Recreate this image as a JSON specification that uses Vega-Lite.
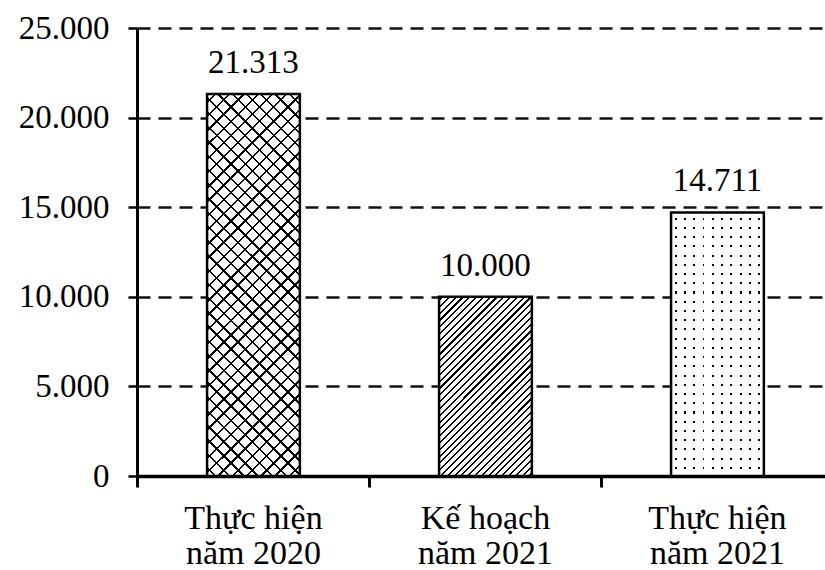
{
  "$schema": "https://vega.github.io/schema/vega-lite/v6.json",
  "width": 688,
  "height": 448,
  "autosize": {"type": "none"},
  "padding": {"left": 137, "top": 28, "right": 0, "bottom": 94},
  "background": "white",
  "data": {"values": [
    {"cat": "Thực hiện\nnăm 2020", "value": 21313},
    {"cat": "Kế hoạch\nnăm 2021", "value": 10000},
    {"cat": "Thực hiện\nnăm 2021", "value": 14711}
  ]},
  "encoding": {
    "x": {
      "field": "cat", "type": "nominal", "sort": null,
      "scale": {"domain": ["Thực hiện\nnăm 2020", "Kế hoạch\nnăm 2021", "Thực hiện\nnăm 2021"], "paddingInner": 0.6, "paddingOuter": 0.2828, "align": 0.534},
      "axis": null
    },
    "y": {
      "field": "value", "type": "quantitative",
      "scale": {"domain": [0, 25000], "nice": false},
      "axis": {
        "title": null, "values": [0, 5000, 10000, 15000, 20000, 25000], "format": ",d",
        "domain": true, "domainColor": "black", "domainWidth": 3,
        "ticks": true, "tickSize": 9, "tickWidth": 2.5, "tickColor": "black",
        "grid": true, "gridColor": "#111", "gridWidth": 2.5, "gridDash": [13, 8],
        "labelFont": "Liberation Serif", "labelFontSize": 33, "labelColor": "black", "labelPadding": 19
      }
    }
  },
  "layer": [
    {
      "transform": [{"filter": {"field": "cat", "equal": "Thực hiện\nnăm 2020"}}],
      "mark": {"type": "bar", "strokeWidth": 0, "fill": {"gradient": "linear", "x1": 0, "y1": 0, "x2": 0.285, "y2": 1.174, "stops": [
        {"offset": 0, "color": "#fff"},
        {"offset": 0.015, "color": "#fff"}, {"offset": 0.015, "color": "#000"}, {"offset": 0.02, "color": "#000"}, {"offset": 0.02, "color": "#fff"},
        {"offset": 0.045, "color": "#fff"}, {"offset": 0.045, "color": "#000"}, {"offset": 0.05, "color": "#000"}, {"offset": 0.05, "color": "#fff"},
        {"offset": 0.075, "color": "#fff"}, {"offset": 0.075, "color": "#000"}, {"offset": 0.08, "color": "#000"}, {"offset": 0.08, "color": "#fff"},
        {"offset": 0.105, "color": "#fff"}, {"offset": 0.105, "color": "#000"}, {"offset": 0.11, "color": "#000"}, {"offset": 0.11, "color": "#fff"},
        {"offset": 0.135, "color": "#fff"}, {"offset": 0.135, "color": "#000"}, {"offset": 0.14, "color": "#000"}, {"offset": 0.14, "color": "#fff"},
        {"offset": 0.165, "color": "#fff"}, {"offset": 0.165, "color": "#000"}, {"offset": 0.17, "color": "#000"}, {"offset": 0.17, "color": "#fff"},
        {"offset": 0.195, "color": "#fff"}, {"offset": 0.195, "color": "#000"}, {"offset": 0.2, "color": "#000"}, {"offset": 0.2, "color": "#fff"},
        {"offset": 0.225, "color": "#fff"}, {"offset": 0.225, "color": "#000"}, {"offset": 0.23, "color": "#000"}, {"offset": 0.23, "color": "#fff"},
        {"offset": 0.255, "color": "#fff"}, {"offset": 0.255, "color": "#000"}, {"offset": 0.26, "color": "#000"}, {"offset": 0.26, "color": "#fff"},
        {"offset": 0.285, "color": "#fff"}, {"offset": 0.285, "color": "#000"}, {"offset": 0.29, "color": "#000"}, {"offset": 0.29, "color": "#fff"},
        {"offset": 0.315, "color": "#fff"}, {"offset": 0.315, "color": "#000"}, {"offset": 0.32, "color": "#000"}, {"offset": 0.32, "color": "#fff"},
        {"offset": 0.345, "color": "#fff"}, {"offset": 0.345, "color": "#000"}, {"offset": 0.35, "color": "#000"}, {"offset": 0.35, "color": "#fff"},
        {"offset": 0.375, "color": "#fff"}, {"offset": 0.375, "color": "#000"}, {"offset": 0.38, "color": "#000"}, {"offset": 0.38, "color": "#fff"},
        {"offset": 0.405, "color": "#fff"}, {"offset": 0.405, "color": "#000"}, {"offset": 0.41, "color": "#000"}, {"offset": 0.41, "color": "#fff"},
        {"offset": 0.435, "color": "#fff"}, {"offset": 0.435, "color": "#000"}, {"offset": 0.44, "color": "#000"}, {"offset": 0.44, "color": "#fff"},
        {"offset": 0.465, "color": "#fff"}, {"offset": 0.465, "color": "#000"}, {"offset": 0.47, "color": "#000"}, {"offset": 0.47, "color": "#fff"},
        {"offset": 0.495, "color": "#fff"}, {"offset": 0.495, "color": "#000"}, {"offset": 0.5, "color": "#000"}, {"offset": 0.5, "color": "#fff"},
        {"offset": 0.525, "color": "#fff"}, {"offset": 0.525, "color": "#000"}, {"offset": 0.53, "color": "#000"}, {"offset": 0.53, "color": "#fff"},
        {"offset": 0.555, "color": "#fff"}, {"offset": 0.555, "color": "#000"}, {"offset": 0.56, "color": "#000"}, {"offset": 0.56, "color": "#fff"},
        {"offset": 0.585, "color": "#fff"}, {"offset": 0.585, "color": "#000"}, {"offset": 0.59, "color": "#000"}, {"offset": 0.59, "color": "#fff"},
        {"offset": 0.615, "color": "#fff"}, {"offset": 0.615, "color": "#000"}, {"offset": 0.62, "color": "#000"}, {"offset": 0.62, "color": "#fff"},
        {"offset": 0.645, "color": "#fff"}, {"offset": 0.645, "color": "#000"}, {"offset": 0.65, "color": "#000"}, {"offset": 0.65, "color": "#fff"},
        {"offset": 0.675, "color": "#fff"}, {"offset": 0.675, "color": "#000"}, {"offset": 0.68, "color": "#000"}, {"offset": 0.68, "color": "#fff"},
        {"offset": 0.705, "color": "#fff"}, {"offset": 0.705, "color": "#000"}, {"offset": 0.71, "color": "#000"}, {"offset": 0.71, "color": "#fff"},
        {"offset": 0.735, "color": "#fff"}, {"offset": 0.735, "color": "#000"}, {"offset": 0.74, "color": "#000"}, {"offset": 0.74, "color": "#fff"},
        {"offset": 0.765, "color": "#fff"}, {"offset": 0.765, "color": "#000"}, {"offset": 0.77, "color": "#000"}, {"offset": 0.77, "color": "#fff"},
        {"offset": 0.795, "color": "#fff"}, {"offset": 0.795, "color": "#000"}, {"offset": 0.8, "color": "#000"}, {"offset": 0.8, "color": "#fff"},
        {"offset": 0.825, "color": "#fff"}, {"offset": 0.825, "color": "#000"}, {"offset": 0.83, "color": "#000"}, {"offset": 0.83, "color": "#fff"},
        {"offset": 0.855, "color": "#fff"}, {"offset": 0.855, "color": "#000"}, {"offset": 0.86, "color": "#000"}, {"offset": 0.86, "color": "#fff"},
        {"offset": 0.885, "color": "#fff"}, {"offset": 0.885, "color": "#000"}, {"offset": 0.89, "color": "#000"}, {"offset": 0.89, "color": "#fff"},
        {"offset": 0.915, "color": "#fff"}, {"offset": 0.915, "color": "#000"}, {"offset": 0.92, "color": "#000"}, {"offset": 0.92, "color": "#fff"},
        {"offset": 0.945, "color": "#fff"}, {"offset": 0.945, "color": "#000"}, {"offset": 0.95, "color": "#000"}, {"offset": 0.95, "color": "#fff"},
        {"offset": 0.975, "color": "#fff"}, {"offset": 0.975, "color": "#000"}, {"offset": 0.98, "color": "#000"}, {"offset": 0.98, "color": "#fff"},
        {"offset": 1, "color": "#fff"}
      ]}},
      "encoding": {
        "x": {
          "field": "cat", "type": "nominal", "sort": null,
          "scale": {"domain": ["Thực hiện\nnăm 2020", "Kế hoạch\nnăm 2021", "Thực hiện\nnăm 2021"], "paddingInner": 0.6, "paddingOuter": 0.2828, "align": 0.534},
          "axis": {
            "title": null, "orient": "bottom", "labelAngle": 0,
            "labelExpr": "split(datum.label, '\\n')", "labelLineHeight": 35,
            "domain": true, "domainColor": "black", "domainWidth": 3.5,
            "ticks": false, "grid": false,
            "labelFont": "Liberation Serif", "labelFontSize": 34, "labelColor": "black", "labelPadding": 25
          }
        }
      }
    },
    {
      "transform": [{"filter": {"field": "cat", "equal": "Thực hiện\nnăm 2020"}}],
      "mark": {"type": "bar", "stroke": "black", "strokeWidth": 2.5, "fill": {"gradient": "linear", "x1": 0, "y1": 1, "x2": 0.285, "y2": -0.174, "stops": [
        {"offset": 0, "color": "transparent"},
        {"offset": 0.015, "color": "transparent"}, {"offset": 0.015, "color": "#000"}, {"offset": 0.02, "color": "#000"}, {"offset": 0.02, "color": "transparent"},
        {"offset": 0.045, "color": "transparent"}, {"offset": 0.045, "color": "#000"}, {"offset": 0.05, "color": "#000"}, {"offset": 0.05, "color": "transparent"},
        {"offset": 0.075, "color": "transparent"}, {"offset": 0.075, "color": "#000"}, {"offset": 0.08, "color": "#000"}, {"offset": 0.08, "color": "transparent"},
        {"offset": 0.105, "color": "transparent"}, {"offset": 0.105, "color": "#000"}, {"offset": 0.11, "color": "#000"}, {"offset": 0.11, "color": "transparent"},
        {"offset": 0.135, "color": "transparent"}, {"offset": 0.135, "color": "#000"}, {"offset": 0.14, "color": "#000"}, {"offset": 0.14, "color": "transparent"},
        {"offset": 0.165, "color": "transparent"}, {"offset": 0.165, "color": "#000"}, {"offset": 0.17, "color": "#000"}, {"offset": 0.17, "color": "transparent"},
        {"offset": 0.195, "color": "transparent"}, {"offset": 0.195, "color": "#000"}, {"offset": 0.2, "color": "#000"}, {"offset": 0.2, "color": "transparent"},
        {"offset": 0.225, "color": "transparent"}, {"offset": 0.225, "color": "#000"}, {"offset": 0.23, "color": "#000"}, {"offset": 0.23, "color": "transparent"},
        {"offset": 0.255, "color": "transparent"}, {"offset": 0.255, "color": "#000"}, {"offset": 0.26, "color": "#000"}, {"offset": 0.26, "color": "transparent"},
        {"offset": 0.285, "color": "transparent"}, {"offset": 0.285, "color": "#000"}, {"offset": 0.29, "color": "#000"}, {"offset": 0.29, "color": "transparent"},
        {"offset": 0.315, "color": "transparent"}, {"offset": 0.315, "color": "#000"}, {"offset": 0.32, "color": "#000"}, {"offset": 0.32, "color": "transparent"},
        {"offset": 0.345, "color": "transparent"}, {"offset": 0.345, "color": "#000"}, {"offset": 0.35, "color": "#000"}, {"offset": 0.35, "color": "transparent"},
        {"offset": 0.375, "color": "transparent"}, {"offset": 0.375, "color": "#000"}, {"offset": 0.38, "color": "#000"}, {"offset": 0.38, "color": "transparent"},
        {"offset": 0.405, "color": "transparent"}, {"offset": 0.405, "color": "#000"}, {"offset": 0.41, "color": "#000"}, {"offset": 0.41, "color": "transparent"},
        {"offset": 0.435, "color": "transparent"}, {"offset": 0.435, "color": "#000"}, {"offset": 0.44, "color": "#000"}, {"offset": 0.44, "color": "transparent"},
        {"offset": 0.465, "color": "transparent"}, {"offset": 0.465, "color": "#000"}, {"offset": 0.47, "color": "#000"}, {"offset": 0.47, "color": "transparent"},
        {"offset": 0.495, "color": "transparent"}, {"offset": 0.495, "color": "#000"}, {"offset": 0.5, "color": "#000"}, {"offset": 0.5, "color": "transparent"},
        {"offset": 0.525, "color": "transparent"}, {"offset": 0.525, "color": "#000"}, {"offset": 0.53, "color": "#000"}, {"offset": 0.53, "color": "transparent"},
        {"offset": 0.555, "color": "transparent"}, {"offset": 0.555, "color": "#000"}, {"offset": 0.56, "color": "#000"}, {"offset": 0.56, "color": "transparent"},
        {"offset": 0.585, "color": "transparent"}, {"offset": 0.585, "color": "#000"}, {"offset": 0.59, "color": "#000"}, {"offset": 0.59, "color": "transparent"},
        {"offset": 0.615, "color": "transparent"}, {"offset": 0.615, "color": "#000"}, {"offset": 0.62, "color": "#000"}, {"offset": 0.62, "color": "transparent"},
        {"offset": 0.645, "color": "transparent"}, {"offset": 0.645, "color": "#000"}, {"offset": 0.65, "color": "#000"}, {"offset": 0.65, "color": "transparent"},
        {"offset": 0.675, "color": "transparent"}, {"offset": 0.675, "color": "#000"}, {"offset": 0.68, "color": "#000"}, {"offset": 0.68, "color": "transparent"},
        {"offset": 0.705, "color": "transparent"}, {"offset": 0.705, "color": "#000"}, {"offset": 0.71, "color": "#000"}, {"offset": 0.71, "color": "transparent"},
        {"offset": 0.735, "color": "transparent"}, {"offset": 0.735, "color": "#000"}, {"offset": 0.74, "color": "#000"}, {"offset": 0.74, "color": "transparent"},
        {"offset": 0.765, "color": "transparent"}, {"offset": 0.765, "color": "#000"}, {"offset": 0.77, "color": "#000"}, {"offset": 0.77, "color": "transparent"},
        {"offset": 0.795, "color": "transparent"}, {"offset": 0.795, "color": "#000"}, {"offset": 0.8, "color": "#000"}, {"offset": 0.8, "color": "transparent"},
        {"offset": 0.825, "color": "transparent"}, {"offset": 0.825, "color": "#000"}, {"offset": 0.83, "color": "#000"}, {"offset": 0.83, "color": "transparent"},
        {"offset": 0.855, "color": "transparent"}, {"offset": 0.855, "color": "#000"}, {"offset": 0.86, "color": "#000"}, {"offset": 0.86, "color": "transparent"},
        {"offset": 0.885, "color": "transparent"}, {"offset": 0.885, "color": "#000"}, {"offset": 0.89, "color": "#000"}, {"offset": 0.89, "color": "transparent"},
        {"offset": 0.915, "color": "transparent"}, {"offset": 0.915, "color": "#000"}, {"offset": 0.92, "color": "#000"}, {"offset": 0.92, "color": "transparent"},
        {"offset": 0.945, "color": "transparent"}, {"offset": 0.945, "color": "#000"}, {"offset": 0.95, "color": "#000"}, {"offset": 0.95, "color": "transparent"},
        {"offset": 0.975, "color": "transparent"}, {"offset": 0.975, "color": "#000"}, {"offset": 0.98, "color": "#000"}, {"offset": 0.98, "color": "transparent"},
        {"offset": 1, "color": "transparent"}
      ]}}
    },
    {
      "transform": [{"filter": {"field": "cat", "equal": "Kế hoạch\nnăm 2021"}}],
      "mark": {"type": "bar", "stroke": "black", "strokeWidth": 2.5, "fill": {"gradient": "linear", "x1": 0, "y1": 0, "x2": 0.62, "y2": 1.197, "stops": [
        {"offset": 0, "color": "#fff"},
        {"offset": 0.01, "color": "#fff"}, {"offset": 0.01, "color": "#000"}, {"offset": 0.018, "color": "#000"}, {"offset": 0.018, "color": "#fff"},
        {"offset": 0.035, "color": "#fff"}, {"offset": 0.035, "color": "#000"}, {"offset": 0.043, "color": "#000"}, {"offset": 0.043, "color": "#fff"},
        {"offset": 0.06, "color": "#fff"}, {"offset": 0.06, "color": "#000"}, {"offset": 0.068, "color": "#000"}, {"offset": 0.068, "color": "#fff"},
        {"offset": 0.085, "color": "#fff"}, {"offset": 0.085, "color": "#000"}, {"offset": 0.093, "color": "#000"}, {"offset": 0.093, "color": "#fff"},
        {"offset": 0.11, "color": "#fff"}, {"offset": 0.11, "color": "#000"}, {"offset": 0.118, "color": "#000"}, {"offset": 0.118, "color": "#fff"},
        {"offset": 0.135, "color": "#fff"}, {"offset": 0.135, "color": "#000"}, {"offset": 0.143, "color": "#000"}, {"offset": 0.143, "color": "#fff"},
        {"offset": 0.16, "color": "#fff"}, {"offset": 0.16, "color": "#000"}, {"offset": 0.168, "color": "#000"}, {"offset": 0.168, "color": "#fff"},
        {"offset": 0.185, "color": "#fff"}, {"offset": 0.185, "color": "#000"}, {"offset": 0.193, "color": "#000"}, {"offset": 0.193, "color": "#fff"},
        {"offset": 0.21, "color": "#fff"}, {"offset": 0.21, "color": "#000"}, {"offset": 0.218, "color": "#000"}, {"offset": 0.218, "color": "#fff"},
        {"offset": 0.235, "color": "#fff"}, {"offset": 0.235, "color": "#000"}, {"offset": 0.243, "color": "#000"}, {"offset": 0.243, "color": "#fff"},
        {"offset": 0.26, "color": "#fff"}, {"offset": 0.26, "color": "#000"}, {"offset": 0.268, "color": "#000"}, {"offset": 0.268, "color": "#fff"},
        {"offset": 0.285, "color": "#fff"}, {"offset": 0.285, "color": "#000"}, {"offset": 0.293, "color": "#000"}, {"offset": 0.293, "color": "#fff"},
        {"offset": 0.31, "color": "#fff"}, {"offset": 0.31, "color": "#000"}, {"offset": 0.318, "color": "#000"}, {"offset": 0.318, "color": "#fff"},
        {"offset": 0.335, "color": "#fff"}, {"offset": 0.335, "color": "#000"}, {"offset": 0.343, "color": "#000"}, {"offset": 0.343, "color": "#fff"},
        {"offset": 0.36, "color": "#fff"}, {"offset": 0.36, "color": "#000"}, {"offset": 0.368, "color": "#000"}, {"offset": 0.368, "color": "#fff"},
        {"offset": 0.385, "color": "#fff"}, {"offset": 0.385, "color": "#000"}, {"offset": 0.393, "color": "#000"}, {"offset": 0.393, "color": "#fff"},
        {"offset": 0.41, "color": "#fff"}, {"offset": 0.41, "color": "#000"}, {"offset": 0.418, "color": "#000"}, {"offset": 0.418, "color": "#fff"},
        {"offset": 0.435, "color": "#fff"}, {"offset": 0.435, "color": "#000"}, {"offset": 0.443, "color": "#000"}, {"offset": 0.443, "color": "#fff"},
        {"offset": 0.46, "color": "#fff"}, {"offset": 0.46, "color": "#000"}, {"offset": 0.468, "color": "#000"}, {"offset": 0.468, "color": "#fff"},
        {"offset": 0.485, "color": "#fff"}, {"offset": 0.485, "color": "#000"}, {"offset": 0.493, "color": "#000"}, {"offset": 0.493, "color": "#fff"},
        {"offset": 0.51, "color": "#fff"}, {"offset": 0.51, "color": "#000"}, {"offset": 0.518, "color": "#000"}, {"offset": 0.518, "color": "#fff"},
        {"offset": 0.535, "color": "#fff"}, {"offset": 0.535, "color": "#000"}, {"offset": 0.543, "color": "#000"}, {"offset": 0.543, "color": "#fff"},
        {"offset": 0.56, "color": "#fff"}, {"offset": 0.56, "color": "#000"}, {"offset": 0.568, "color": "#000"}, {"offset": 0.568, "color": "#fff"},
        {"offset": 0.585, "color": "#fff"}, {"offset": 0.585, "color": "#000"}, {"offset": 0.593, "color": "#000"}, {"offset": 0.593, "color": "#fff"},
        {"offset": 0.61, "color": "#fff"}, {"offset": 0.61, "color": "#000"}, {"offset": 0.618, "color": "#000"}, {"offset": 0.618, "color": "#fff"},
        {"offset": 0.635, "color": "#fff"}, {"offset": 0.635, "color": "#000"}, {"offset": 0.643, "color": "#000"}, {"offset": 0.643, "color": "#fff"},
        {"offset": 0.66, "color": "#fff"}, {"offset": 0.66, "color": "#000"}, {"offset": 0.668, "color": "#000"}, {"offset": 0.668, "color": "#fff"},
        {"offset": 0.685, "color": "#fff"}, {"offset": 0.685, "color": "#000"}, {"offset": 0.693, "color": "#000"}, {"offset": 0.693, "color": "#fff"},
        {"offset": 0.71, "color": "#fff"}, {"offset": 0.71, "color": "#000"}, {"offset": 0.718, "color": "#000"}, {"offset": 0.718, "color": "#fff"},
        {"offset": 0.735, "color": "#fff"}, {"offset": 0.735, "color": "#000"}, {"offset": 0.743, "color": "#000"}, {"offset": 0.743, "color": "#fff"},
        {"offset": 0.76, "color": "#fff"}, {"offset": 0.76, "color": "#000"}, {"offset": 0.768, "color": "#000"}, {"offset": 0.768, "color": "#fff"},
        {"offset": 0.785, "color": "#fff"}, {"offset": 0.785, "color": "#000"}, {"offset": 0.793, "color": "#000"}, {"offset": 0.793, "color": "#fff"},
        {"offset": 0.81, "color": "#fff"}, {"offset": 0.81, "color": "#000"}, {"offset": 0.818, "color": "#000"}, {"offset": 0.818, "color": "#fff"},
        {"offset": 0.835, "color": "#fff"}, {"offset": 0.835, "color": "#000"}, {"offset": 0.843, "color": "#000"}, {"offset": 0.843, "color": "#fff"},
        {"offset": 0.86, "color": "#fff"}, {"offset": 0.86, "color": "#000"}, {"offset": 0.868, "color": "#000"}, {"offset": 0.868, "color": "#fff"},
        {"offset": 0.885, "color": "#fff"}, {"offset": 0.885, "color": "#000"}, {"offset": 0.893, "color": "#000"}, {"offset": 0.893, "color": "#fff"},
        {"offset": 0.91, "color": "#fff"}, {"offset": 0.91, "color": "#000"}, {"offset": 0.918, "color": "#000"}, {"offset": 0.918, "color": "#fff"},
        {"offset": 0.935, "color": "#fff"}, {"offset": 0.935, "color": "#000"}, {"offset": 0.943, "color": "#000"}, {"offset": 0.943, "color": "#fff"},
        {"offset": 0.96, "color": "#fff"}, {"offset": 0.96, "color": "#000"}, {"offset": 0.968, "color": "#000"}, {"offset": 0.968, "color": "#fff"},
        {"offset": 0.985, "color": "#fff"}, {"offset": 0.985, "color": "#000"}, {"offset": 0.993, "color": "#000"}, {"offset": 0.993, "color": "#fff"},
        {"offset": 1, "color": "#fff"}
      ]}}
    },
    {
      "transform": [{"filter": {"field": "cat", "equal": "Thực hiện\nnăm 2021"}}],
      "mark": {"type": "bar", "strokeWidth": 0, "fill": {"gradient": "linear", "x1": 0, "y1": 0, "x2": 1, "y2": 0, "stops": [
        {"offset": 0, "color": "#fff"},
        {"offset": 0.04, "color": "#fff"}, {"offset": 0.04, "color": "#000"}, {"offset": 0.06, "color": "#000"}, {"offset": 0.06, "color": "#fff"},
        {"offset": 0.14, "color": "#fff"}, {"offset": 0.14, "color": "#000"}, {"offset": 0.16, "color": "#000"}, {"offset": 0.16, "color": "#fff"},
        {"offset": 0.24, "color": "#fff"}, {"offset": 0.24, "color": "#000"}, {"offset": 0.26, "color": "#000"}, {"offset": 0.26, "color": "#fff"},
        {"offset": 0.34, "color": "#fff"}, {"offset": 0.34, "color": "#000"}, {"offset": 0.36, "color": "#000"}, {"offset": 0.36, "color": "#fff"},
        {"offset": 0.44, "color": "#fff"}, {"offset": 0.44, "color": "#000"}, {"offset": 0.46, "color": "#000"}, {"offset": 0.46, "color": "#fff"},
        {"offset": 0.54, "color": "#fff"}, {"offset": 0.54, "color": "#000"}, {"offset": 0.56, "color": "#000"}, {"offset": 0.56, "color": "#fff"},
        {"offset": 0.64, "color": "#fff"}, {"offset": 0.64, "color": "#000"}, {"offset": 0.66, "color": "#000"}, {"offset": 0.66, "color": "#fff"},
        {"offset": 0.74, "color": "#fff"}, {"offset": 0.74, "color": "#000"}, {"offset": 0.76, "color": "#000"}, {"offset": 0.76, "color": "#fff"},
        {"offset": 0.84, "color": "#fff"}, {"offset": 0.84, "color": "#000"}, {"offset": 0.86, "color": "#000"}, {"offset": 0.86, "color": "#fff"},
        {"offset": 0.94, "color": "#fff"}, {"offset": 0.94, "color": "#000"}, {"offset": 0.96, "color": "#000"}, {"offset": 0.96, "color": "#fff"},
        {"offset": 1, "color": "#fff"}
      ]}}
    },
    {
      "transform": [{"filter": {"field": "cat", "equal": "Thực hiện\nnăm 2021"}}],
      "mark": {"type": "bar", "stroke": "black", "strokeWidth": 2.5, "fill": {"gradient": "linear", "x1": 0, "y1": 0, "x2": 0, "y2": 1, "stops": [
        {"offset": 0, "color": "#fff"},
        {"offset": 0.02, "color": "#fff"}, {"offset": 0.02, "color": "transparent"}, {"offset": 0.028, "color": "transparent"}, {"offset": 0.028, "color": "#fff"},
        {"offset": 0.055, "color": "#fff"}, {"offset": 0.055, "color": "transparent"}, {"offset": 0.063, "color": "transparent"}, {"offset": 0.063, "color": "#fff"},
        {"offset": 0.09, "color": "#fff"}, {"offset": 0.09, "color": "transparent"}, {"offset": 0.098, "color": "transparent"}, {"offset": 0.098, "color": "#fff"},
        {"offset": 0.125, "color": "#fff"}, {"offset": 0.125, "color": "transparent"}, {"offset": 0.133, "color": "transparent"}, {"offset": 0.133, "color": "#fff"},
        {"offset": 0.16, "color": "#fff"}, {"offset": 0.16, "color": "transparent"}, {"offset": 0.168, "color": "transparent"}, {"offset": 0.168, "color": "#fff"},
        {"offset": 0.195, "color": "#fff"}, {"offset": 0.195, "color": "transparent"}, {"offset": 0.203, "color": "transparent"}, {"offset": 0.203, "color": "#fff"},
        {"offset": 0.23, "color": "#fff"}, {"offset": 0.23, "color": "transparent"}, {"offset": 0.238, "color": "transparent"}, {"offset": 0.238, "color": "#fff"},
        {"offset": 0.265, "color": "#fff"}, {"offset": 0.265, "color": "transparent"}, {"offset": 0.273, "color": "transparent"}, {"offset": 0.273, "color": "#fff"},
        {"offset": 0.3, "color": "#fff"}, {"offset": 0.3, "color": "transparent"}, {"offset": 0.308, "color": "transparent"}, {"offset": 0.308, "color": "#fff"},
        {"offset": 0.335, "color": "#fff"}, {"offset": 0.335, "color": "transparent"}, {"offset": 0.343, "color": "transparent"}, {"offset": 0.343, "color": "#fff"},
        {"offset": 0.37, "color": "#fff"}, {"offset": 0.37, "color": "transparent"}, {"offset": 0.378, "color": "transparent"}, {"offset": 0.378, "color": "#fff"},
        {"offset": 0.405, "color": "#fff"}, {"offset": 0.405, "color": "transparent"}, {"offset": 0.413, "color": "transparent"}, {"offset": 0.413, "color": "#fff"},
        {"offset": 0.44, "color": "#fff"}, {"offset": 0.44, "color": "transparent"}, {"offset": 0.448, "color": "transparent"}, {"offset": 0.448, "color": "#fff"},
        {"offset": 0.475, "color": "#fff"}, {"offset": 0.475, "color": "transparent"}, {"offset": 0.483, "color": "transparent"}, {"offset": 0.483, "color": "#fff"},
        {"offset": 0.51, "color": "#fff"}, {"offset": 0.51, "color": "transparent"}, {"offset": 0.518, "color": "transparent"}, {"offset": 0.518, "color": "#fff"},
        {"offset": 0.545, "color": "#fff"}, {"offset": 0.545, "color": "transparent"}, {"offset": 0.553, "color": "transparent"}, {"offset": 0.553, "color": "#fff"},
        {"offset": 0.58, "color": "#fff"}, {"offset": 0.58, "color": "transparent"}, {"offset": 0.588, "color": "transparent"}, {"offset": 0.588, "color": "#fff"},
        {"offset": 0.615, "color": "#fff"}, {"offset": 0.615, "color": "transparent"}, {"offset": 0.623, "color": "transparent"}, {"offset": 0.623, "color": "#fff"},
        {"offset": 0.65, "color": "#fff"}, {"offset": 0.65, "color": "transparent"}, {"offset": 0.658, "color": "transparent"}, {"offset": 0.658, "color": "#fff"},
        {"offset": 0.685, "color": "#fff"}, {"offset": 0.685, "color": "transparent"}, {"offset": 0.693, "color": "transparent"}, {"offset": 0.693, "color": "#fff"},
        {"offset": 0.72, "color": "#fff"}, {"offset": 0.72, "color": "transparent"}, {"offset": 0.728, "color": "transparent"}, {"offset": 0.728, "color": "#fff"},
        {"offset": 0.755, "color": "#fff"}, {"offset": 0.755, "color": "transparent"}, {"offset": 0.763, "color": "transparent"}, {"offset": 0.763, "color": "#fff"},
        {"offset": 0.79, "color": "#fff"}, {"offset": 0.79, "color": "transparent"}, {"offset": 0.798, "color": "transparent"}, {"offset": 0.798, "color": "#fff"},
        {"offset": 0.825, "color": "#fff"}, {"offset": 0.825, "color": "transparent"}, {"offset": 0.833, "color": "transparent"}, {"offset": 0.833, "color": "#fff"},
        {"offset": 0.86, "color": "#fff"}, {"offset": 0.86, "color": "transparent"}, {"offset": 0.868, "color": "transparent"}, {"offset": 0.868, "color": "#fff"},
        {"offset": 0.895, "color": "#fff"}, {"offset": 0.895, "color": "transparent"}, {"offset": 0.903, "color": "transparent"}, {"offset": 0.903, "color": "#fff"},
        {"offset": 0.93, "color": "#fff"}, {"offset": 0.93, "color": "transparent"}, {"offset": 0.938, "color": "transparent"}, {"offset": 0.938, "color": "#fff"},
        {"offset": 0.965, "color": "#fff"}, {"offset": 0.965, "color": "transparent"}, {"offset": 0.973, "color": "transparent"}, {"offset": 0.973, "color": "#fff"},
        {"offset": 1, "color": "#fff"}
      ]}}
    },
    {
      "mark": {"type": "text", "dy": -21, "baseline": "alphabetic", "font": "Liberation Serif", "fontSize": 33, "color": "black"},
      "encoding": {
        "x": {
          "field": "cat", "type": "nominal", "sort": null,
          "scale": {"domain": ["Thực hiện\nnăm 2020", "Kế hoạch\nnăm 2021", "Thực hiện\nnăm 2021"], "paddingInner": 0.6, "paddingOuter": 0.2828, "align": 0.534},
          "axis": {
            "title": null, "orient": "bottom", "labels": false, "domain": false, "grid": false,
            "ticks": true, "tickSize": 11, "tickWidth": 3, "tickColor": "black", "bandPosition": -0.75
          }
        },
        "text": {"field": "value", "type": "quantitative", "format": ",d"}
      }
    }
  ],
  "resolve": {"axis": {"x": "independent"}},
  "config": {
    "view": {"stroke": null},
    "locale": {"number": {"decimal": ",", "thousands": ".", "grouping": [3], "currency": ["", ""]}}
  }
}
